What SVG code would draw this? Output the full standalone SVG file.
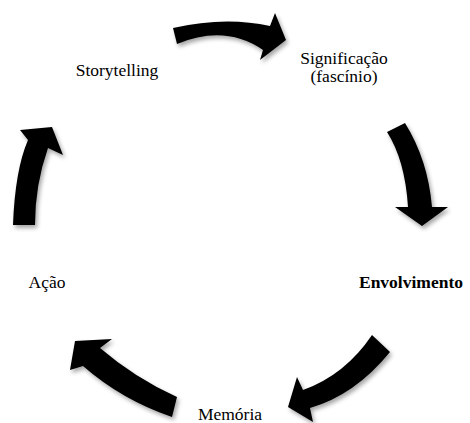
<svg xmlns="http://www.w3.org/2000/svg" width="470" height="423" viewBox="0 0 470 423">
<defs>
<filter id="sh" x="-20%" y="-20%" width="150%" height="150%">
<feDropShadow dx="2" dy="3" stdDeviation="2" flood-color="#000" flood-opacity="0.35"/>
</filter>
<style>
.lbl{font-family:"Liberation Serif","Times New Roman",serif;font-size:17.5px;fill:#000;text-anchor:middle}
.b{font-weight:bold}
.arr{fill:#000;stroke:none;filter:url(#sh)}
</style>
</defs>
<rect width="470" height="423" fill="#fff"/>
<g id="connectors">
<path class="arr" d="M173,28 Q225,16 270,26 L275,13 L286,40 L260,60 L263,50 Q225,24 177,44 Z"/>
<path class="arr" d="M387,132 L405,123 Q428,160 432,207 L448,207 L422,226 L395,207 L408,207 Q405,160 387,132 Z"/>
<path class="arr" d="M372,335 L390,352 Q355,395 310,408 L313,422 L288,407 L297,377 L303,390 Q345,375 372,335 Z"/>
<path class="arr" d="M177,397 L172,417 Q122,400 83,366 L70,370 L75,341 L112,339 L100,348 Q135,378 177,397 Z"/>
<path class="arr" d="M13,225 Q15,170 28,140 L20,130 L52,127 L63,155 L48,148 Q35,185 35,225 Z"/>
</g>
<g id="storytelling"><text class="lbl" x="117" y="76">Storytelling</text></g>
<g id="significacao"><text class="lbl" x="344" y="64">Significação</text><text class="lbl" x="344" y="82">(fascínio)</text></g>
<g id="envolvimento"><text class="lbl b" x="411" y="288">Envolvimento</text></g>
<g id="memoria"><text class="lbl" x="230" y="420">Memória</text></g>
<g id="acao"><text class="lbl" x="47" y="288">Ação</text></g>
</svg>
